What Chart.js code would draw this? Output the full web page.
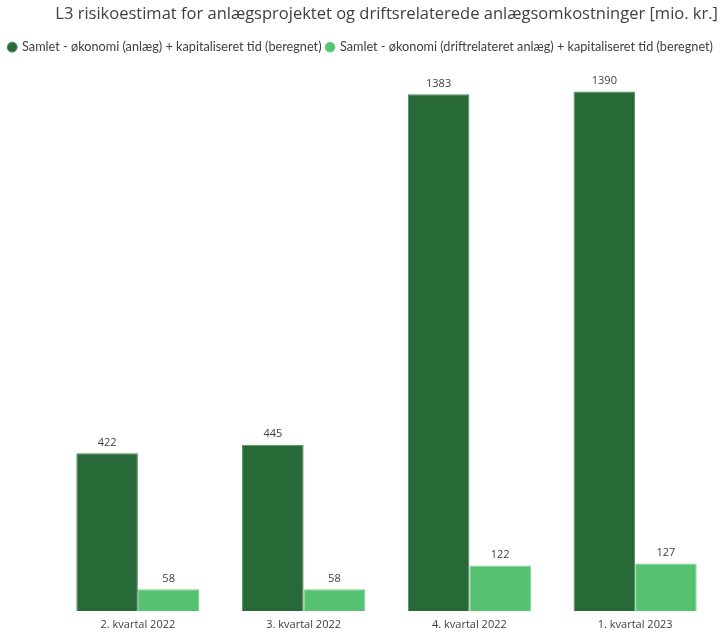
<!DOCTYPE html>
<html lang="da">
<head>
  <meta charset="UTF-8">
  <title>L3 risikoestimat</title>
  <script src="https://cdn.jsdelivr.net/npm/chart.js"></script>
  <style>
    html, body { margin: 0; padding: 0; background: #fff; }
    .wrap { width: 723px; height: 632px; }
  </style>
</head>
<body>
<div class="wrap"><canvas id="chart"></canvas></div>
<script>
const categories = ['2. kvartal 2022', '3. kvartal 2022', '4. kvartal 2022', '1. kvartal 2023'];
const anlaeg = [422, 445, 1383, 1390];
const drift = [58, 58, 122, 127];
const seriesNames = [
  'Samlet - økonomi (anlæg) + kapitaliseret tid (beregnet)',
  'Samlet - økonomi (driftrelateret anlæg) + kapitaliseret tid (beregnet)'
];

const FONT = '"Open Sans", "Noto Sans", sans-serif';
const LEGEND_FONT = 'Lato, "Open Sans", sans-serif';

// values above each bar
const valueLabels = {
  id: 'valueLabels',
  afterDatasetsDraw(chart) {
    const c = chart.ctx;
    c.save();
    c.font = '11px ' + FONT;
    c.fillStyle = '#404040';
    c.textAlign = 'center';
    c.textBaseline = 'bottom';
    chart.data.datasets.forEach((ds, i) => {
      chart.getDatasetMeta(i).data.forEach((bar, j) => {
        c.fillText(ds.data[j], bar.x, bar.y - 5);
      });
    });
    c.restore();
  }
};

new Chart(document.getElementById('chart'), {
  type: 'bar',
  data: {
    labels: categories,
    datasets: [
      { label: seriesNames[0], data: anlaeg, backgroundColor: '#276937', borderColor: '#4f8a5c', borderWidth: 1 },
      { label: seriesNames[1], data: drift, backgroundColor: '#56c271', borderColor: '#7fd294', borderWidth: 1 }
    ]
  },
  options: {
    responsive: true,
    maintainAspectRatio: false,
    animation: false,
    categoryPercentage: 0.743,
    barPercentage: 1,
    layout: { padding: { left: 0, right: 5, top: 0, bottom: 2 } },
    plugins: {
      title: {
        display: true,
        text: 'L3 risikoestimat for anlægsprojektet og driftsrelaterede anlægsomkostninger [mio. kr.]',
        align: 'end',
        color: '#404040',
        font: { family: FONT, size: 16.5, weight: 'normal' },
        padding: { top: 4, bottom: 12 }
      },
      legend: {
        display: true,
        align: 'end',
        labels: {
          usePointStyle: true,
          pointStyle: 'circle',
          boxWidth: 7,
          boxHeight: 7,
          padding: 5,
          color: '#404040',
          font: { family: LEGEND_FONT, size: 12.7 }
        }
      },
      tooltip: { enabled: false }
    },
    scales: {
      x: {
        grid: { display: false },
        border: { display: false },
        ticks: { color: '#404040', font: { family: FONT, size: 11, lineHeight: 1 }, padding: 0 }
      },
      y: {
        display: true,
        min: 0,
        max: 1465,
        grid: { display: false },
        border: { display: false },
        ticks: { display: false },
        afterFit(scale) { scale.width = 55; }
      }
    }
  },
  plugins: [valueLabels]
});
</script>
</body>
</html>
